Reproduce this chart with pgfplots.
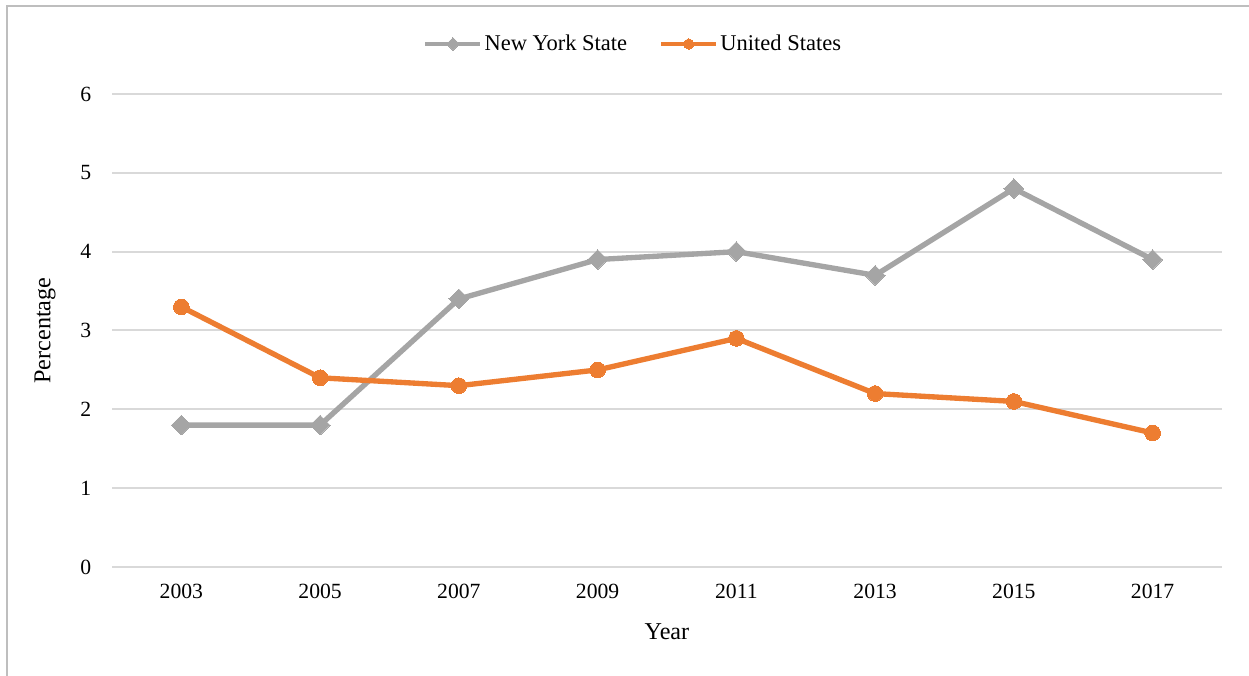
\documentclass[border=0pt]{standalone}
\usepackage{fontspec}
\setmainfont{Liberation Serif}
\usepackage{pgfplots}
\pgfplotsset{compat=1.18}
\definecolor{nygray}{RGB}{165,165,165}
\definecolor{usorange}{RGB}{237,125,49}
\definecolor{gridc}{RGB}{217,217,217}
\definecolor{framec}{RGB}{190,190,190}
\begin{document}
\begin{tikzpicture}
\useasboundingbox (-67.2pt,-65.4pt) rectangle (682.2pt,340.2pt);
\draw[color=framec, line width=1.3pt] (-63pt,-66pt) -- (-63pt,336.6pt) -- (683pt,336.6pt);
\begin{axis}[
  scale only axis,
  at={(0pt,0pt)}, anchor=south west,
  width=666pt, height=283.8pt,
  xmin=-0.5, xmax=7.5, ymin=0, ymax=6,
  xtick={0,...,7},
  xticklabels={2003,2005,2007,2009,2011,2013,2015,2017},
  ytick={0,...,6},
  axis line style={draw=none},
  major tick length=0pt,
  ymajorgrids,
  grid style={color=gridc, line width=1.2pt},
  /pgf/number format/assume math mode=true,
  ticklabel style={font=\fontsize{13}{15}\selectfont},
  yticklabel style={xshift=-9pt},
  xticklabel style={yshift=-7pt},
  xlabel={Year}, ylabel={Percentage},
  label style={font=\fontsize{14.5}{16}\selectfont},
  xlabel style={at={(axis description cs:0.5,-0.137)}, anchor=center},
  ylabel style={at={(axis description cs:-0.0604,0.5)}, anchor=center, rotate=0},
  legend style={at={(axis description cs:0.47,1.1057)}, anchor=center, draw=none,
    font=\fontsize{13.5}{15}\selectfont, legend columns=2,
    /tikz/every even column/.append style={column sep=18pt},
    inner sep=0pt, nodes={inner xsep=1.5pt}},
  legend cell align=left,
  legend image code/.code={\draw[mark repeat=2,mark phase=2,#1, line width=1.9pt, mark options={rotate=45, scale=0.65, line width=0pt}] plot coordinates {(0pt,0pt)(16.5pt,0pt)(33pt,0pt)};},
  clip=false,
]
\addplot[color=nygray, line width=3.2pt, mark=square*, mark size=4.2pt, mark options={rotate=45, line width=0pt}]
  coordinates {(0,1.8)(1,1.8)(2,3.4)(3,3.9)(4,4.0)(5,3.7)(6,4.8)(7,3.9)};
\addlegendentry{New York State}
\addplot[color=usorange, line width=3.2pt, mark=*, mark size=4.7pt, mark options={rotate=45, line width=0pt}]
  coordinates {(0,3.3)(1,2.4)(2,2.3)(3,2.5)(4,2.9)(5,2.2)(6,2.1)(7,1.7)};
\addlegendentry{United States}
\end{axis}
\end{tikzpicture}
\end{document}
